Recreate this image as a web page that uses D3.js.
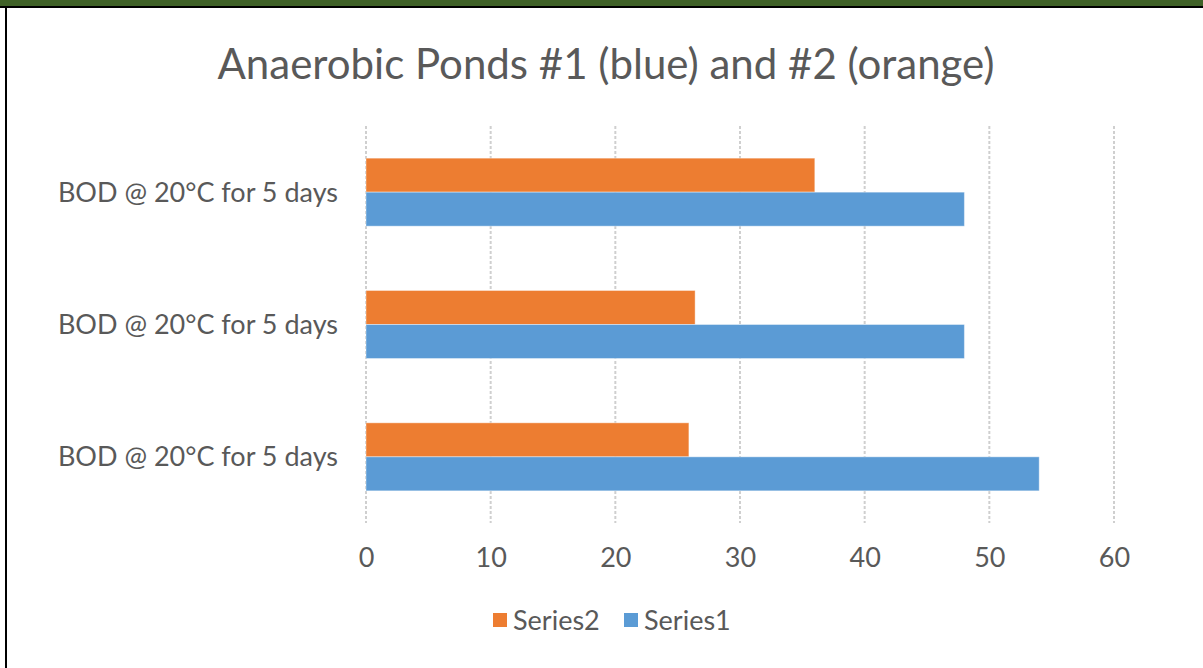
<!DOCTYPE html>
<html>
<head>
<meta charset="utf-8">
<script src="https://cdn.jsdelivr.net/npm/d3@7"></script>
<style>
  body { margin: 0; background: #fff; }
  text { font-family: Lato, "Open Sans", sans-serif; fill: #595959; }
</style>
</head>
<body>
<script>
// data
var categories = ["BOD @ 20°C for 5 days", "BOD @ 20°C for 5 days", "BOD @ 20°C for 5 days"];
var series1 = [48, 48, 54];     // blue, pond #1
var series2 = [36, 26.4, 25.9]; // orange, pond #2
var xTicks = [0, 10, 20, 30, 40, 50, 60];
var seriesNames = ["Series2", "Series1"];
var colors = { Series1: "#5B9BD5", Series2: "#ED7D31" };

var width = 1203, height = 668;

var svg = d3.select("body").append("svg")
    .attr("width", width)
    .attr("height", height);

// frame: green band on top, black rule and left edge
svg.append("rect").attr("x", 0).attr("y", 0).attr("width", width).attr("height", 7).attr("fill", "#3F6127");
svg.append("rect").attr("x", 0).attr("y", 6).attr("width", width).attr("height", 2).attr("fill", "#000");
svg.append("rect").attr("x", 5).attr("y", 6).attr("width", 2).attr("height", height).attr("fill", "#000");

// title
svg.append("text")
    .attr("x", 606).attr("y", 79)
    .attr("text-anchor", "middle")
    .style("font-size", "42px")
    .text("Anaerobic Ponds #1 (blue) and #2 (orange)");

var x = d3.scaleLinear().domain([0, 60]).range([366, 1114]);

var y = d3.scaleBand()
    .domain(d3.range(categories.length))
    .range([126, 523])
    .paddingInner(0.486)
    .paddingOuter(0.243);

var ySub = d3.scaleBand()
    .domain(seriesNames)
    .range([0, y.bandwidth()]);

// gridlines
svg.append("g").selectAll("line")
    .data(xTicks)
    .enter()
    .append("line")
    .attr("x1", function(d) { return x(d); })
    .attr("x2", function(d) { return x(d); })
    .attr("y1", 126)
    .attr("y2", 523)
    .attr("stroke", "#cfcfcf")
    .attr("stroke-width", 2)
    .attr("stroke-dasharray", "3,2");

// bars
var rows = categories.map(function(c, i) {
  return { i: i, Series1: series1[i], Series2: series2[i] };
});

var group = svg.append("g").selectAll("g")
    .data(rows)
    .enter()
    .append("g")
    .attr("transform", function(d) { return "translate(0," + y(d.i) + ")"; });

group.selectAll("rect")
    .data(function(d) { return seriesNames.map(function(s) { return { s: s, v: d[s] }; }); })
    .enter()
    .append("rect")
    .attr("x", x(0))
    .attr("y", function(d) { return ySub(d.s); })
    .attr("width", function(d) { return x(d.v) - x(0); })
    .attr("height", ySub.bandwidth())
    .attr("fill", function(d) { return colors[d.s]; })
    .attr("stroke", "#fff")
    .attr("stroke-opacity", 0.4)
    .attr("stroke-width", 1);

// category labels
svg.append("g").selectAll("text")
    .data(categories)
    .enter()
    .append("text")
    .attr("x", 338)
    .attr("y", function(d, i) { return y(i) + y.bandwidth() / 2; })
    .attr("dy", "0.35em")
    .attr("text-anchor", "end")
    .style("font-size", "27px")
    .text(function(d) { return d; });

// x axis labels
var xAxis = svg.append("g")
    .attr("transform", "translate(0,523)")
    .call(d3.axisBottom(x).tickValues(xTicks).tickSize(0).tickPadding(25));
xAxis.select(".domain").remove();
xAxis.selectAll("text")
    .style("font-size", "27px")
    .style("font-family", "Lato, 'Open Sans', sans-serif")
    .attr("fill", "#595959");

// legend
var legend = svg.append("g").attr("transform", "translate(493,613)");
var items = [{ s: "Series2", x: 0 }, { s: "Series1", x: 131 }];
var li = legend.selectAll("g")
    .data(items)
    .enter()
    .append("g")
    .attr("transform", function(d) { return "translate(" + d.x + ",0)"; });
li.append("rect")
    .attr("width", 14).attr("height", 14)
    .attr("fill", function(d) { return colors[d.s]; });
li.append("text")
    .attr("x", 20).attr("y", 8)
    .attr("dy", "0.35em")
    .style("font-size", "27px")
    .text(function(d) { return d.s; });
</script>
</body>
</html>
